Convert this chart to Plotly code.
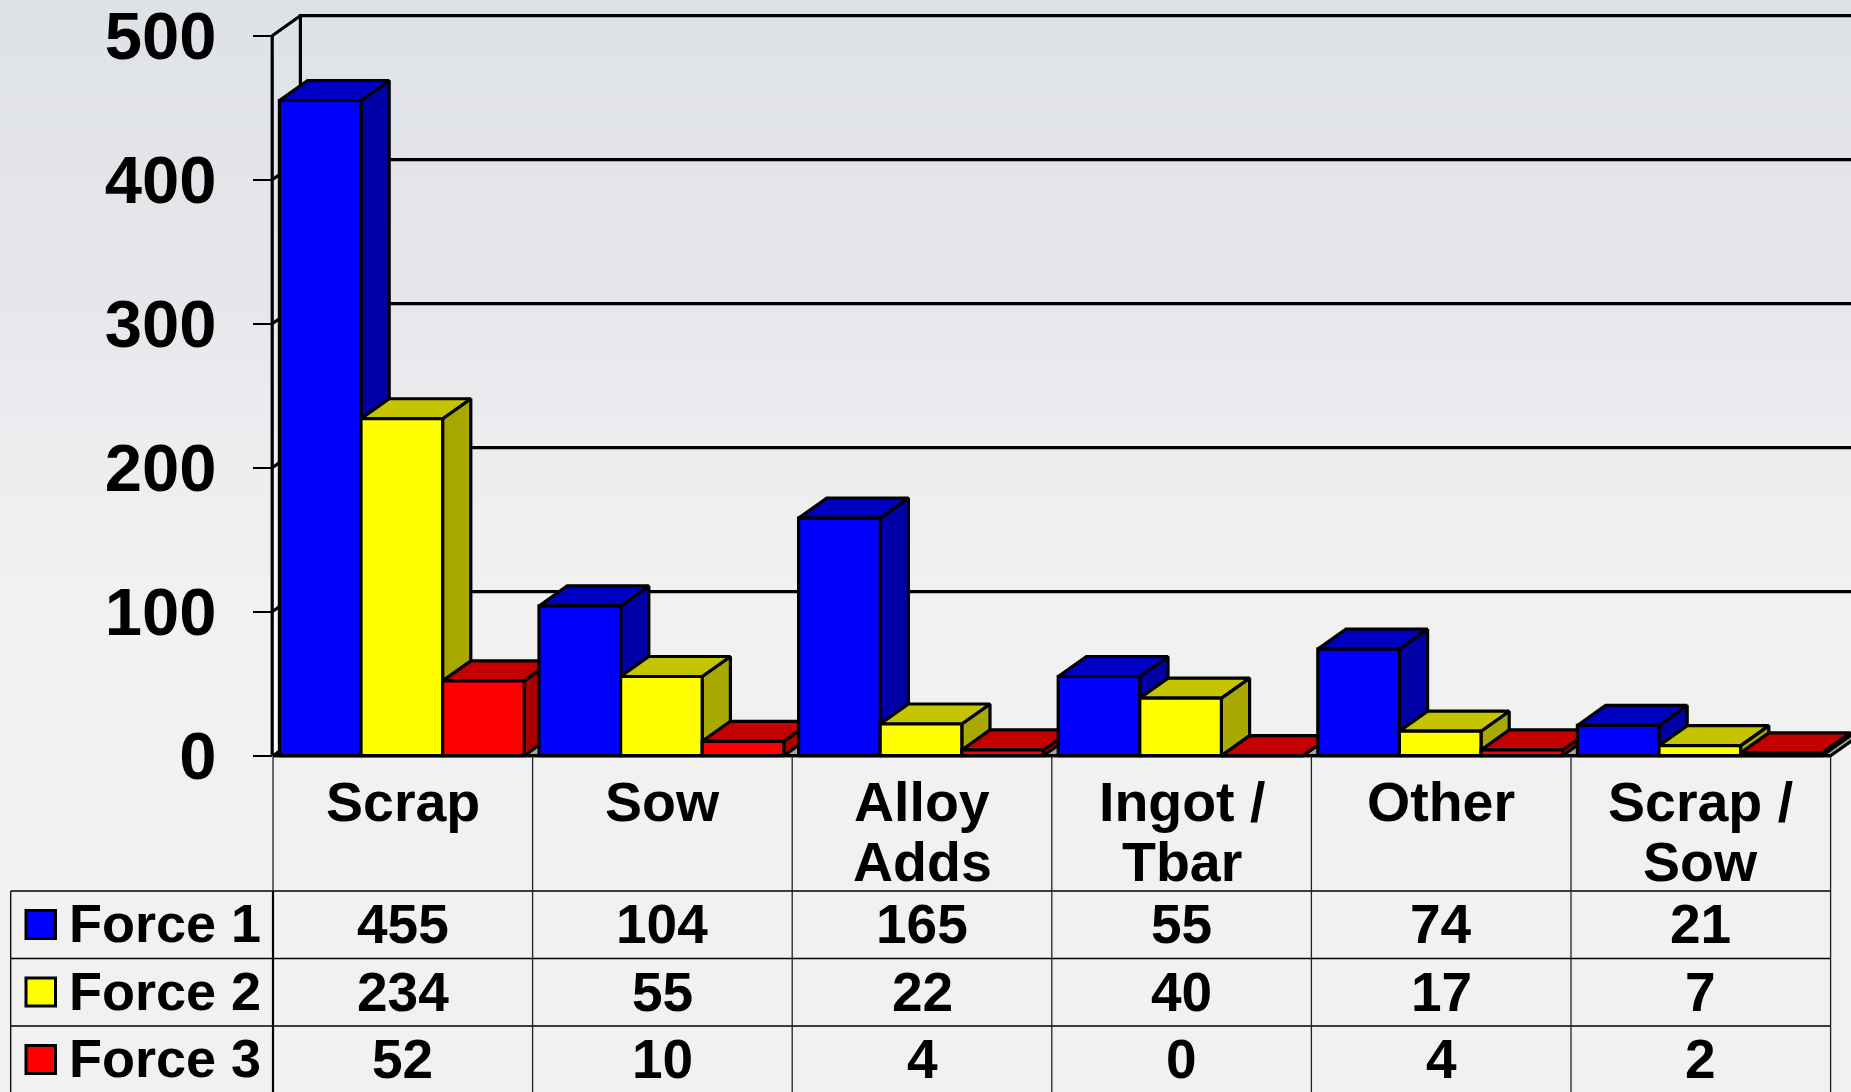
import numpy as np
import plotly.graph_objects as go

categories = [["Scrap"], ["Sow"], ["Alloy", "Adds"], ["Ingot /", "Tbar"], ["Other"], ["Scrap /", "Sow"]]
force_1 = [455, 104, 165, 55, 74, 21]
force_2 = [234, 55, 22, 40, 17, 7]
force_3 = [52, 10, 4, 0, 4, 2]
series_names = ["Force 1", "Force 2", "Force 3"]
y_ticks = [0, 100, 200, 300, 400, 500]

W, H = 1851, 1092
X0, CAT_W = 273.0, 259.6
Y0, PX_PER_UNIT = 755.7, 1.44
DX = 28.2 / CAT_W
DY = 20.0 / PX_PER_UNIT
WALL_X = -0.8 / CAT_W
BAR_OFF = 6.4 / CAT_W
BAR_W = 81.6 / CAT_W
LW = 3.2
FONT = "Liberation Sans"

FACES = [("#0000ff", "#0000c4", "#0000a6"),
         ("#ffff00", "#c4c400", "#a8a800"),
         ("#ff0000", "#c40000", "#a80000")]
series = [force_1, force_2, force_3]
n = len(categories)
ymax = 500


def py(p):
    return 1 - p / H


fig = go.Figure()


def poly(xs, ys, fill=None, color="#000000", width=LW, **kw):
    fig.add_trace(go.Scatter(
        x=xs, y=ys, mode="lines", showlegend=False, hoverinfo="skip",
        line=dict(color=color, width=width, shape="linear"),
        fill="toself" if fill else None, fillcolor=fill, **kw))


# side wall: pale towards the floor, fading into the background at the top
fig.add_trace(go.Scatter(
    x=[WALL_X, WALL_X + DX, WALL_X + DX, WALL_X, WALL_X], y=[0, DY, ymax + DY, ymax, 0],
    mode="lines", line=dict(width=0), showlegend=False, hoverinfo="skip", fill="toself",
    fillgradient=dict(type="vertical", colorscale=[[0, "rgba(255,255,255,0.85)"], [0.4, "rgba(255,255,255,0.2)"],
                                                   [0.7, "rgba(255,255,255,0)"], [1, "rgba(255,255,255,0)"]])))
# walls
poly([WALL_X + DX, WALL_X + DX, n + 2], [0, ymax + DY, ymax + DY])
poly([WALL_X, WALL_X + DX], [ymax, ymax + DY])
for t in y_ticks[1:-1]:
    poly([WALL_X, WALL_X + DX, n + 2], [t, t + DY, t + DY])
poly([WALL_X, WALL_X], [0, ymax])
# floor
poly([0, n, n + DX, DX, 0], [0, 0, DY, DY, 0], fill="#a6a6a6")

# bars
for c in range(n):
    for s in range(3):
        v = series[s][c]
        x1 = c + BAR_OFF + s * BAR_W
        x2 = x1 + BAR_W
        front, top, side = FACES[s]
        poly([x2, x2 + DX, x2 + DX, x2, x2], [0, DY, v + DY, v, 0], fill=side)
        poly([x1, x2, x2 + DX, x1 + DX, x1], [v, v, v + DY, v + DY, v], fill=top)
        poly([x1, x2, x2, x1, x1], [0, 0, v, v, 0], fill=front)
poly([0, n], [0, 0])

shapes = []
# background gradient
stops_p = [0, 150, 300, 450, 600, H]
stops_c = np.array([[222, 226, 231], [226, 228, 232], [230, 231, 235], [236, 237, 239], [241, 241, 241],
                    [241, 241, 241]], float)
bands = 100
for i in range(bands):
    a, b = H * i / bands, H * (i + 1) / bands
    col = [int(round(np.interp((a + b) / 2, stops_p, stops_c[:, k]))) for k in range(3)]
    shapes.append(dict(type="rect", xref="paper", yref="paper", x0=0, x1=1, y0=py(a), y1=py(b) - 0.0005,
                       layer="below", line=dict(width=0), fillcolor=f"rgb({col[0]},{col[1]},{col[2]})"))

# table lines
ROW_TOP = 891.0
ROW_H = 67.5
ROW_X0 = 10.7 / W
for r in range(3):
    y = ROW_TOP + r * ROW_H
    shapes.append(dict(type="line", xref="paper", yref="paper", x0=ROW_X0, x1=(X0 + n * CAT_W) / W,
                       y0=py(y), y1=py(y), line=dict(color="#000000", width=1.3)))
shapes.append(dict(type="line", xref="paper", yref="paper", x0=ROW_X0, x1=ROW_X0, y0=py(ROW_TOP), y1=0,
                   line=dict(color="#000000", width=1.3)))
for c in range(n + 1):
    shapes.append(dict(type="line", xref="x", yref="paper", x0=c, x1=c, y0=py(Y0), y1=0,
                       line=dict(color="#222222", width=1.3)))
shapes.append(dict(type="line", xref="x", yref="paper", x0=0, x1=0, y0=py(ROW_TOP), y1=0,
                   line=dict(color="#000000", width=2.2)))

# legend keys
for r in range(3):
    cy = ROW_TOP + 33.6 + r * ROW_H
    shapes.append(dict(type="rect", xref="paper", yref="paper", x0=26 / W, x1=55.5 / W,
                       y0=py(cy - 14), y1=py(cy + 14), fillcolor=FACES[r][0],
                       line=dict(color="#000000", width=3)))

annotations = []


def text(s, x, xref, y, anchor="center", size=54):
    annotations.append(dict(text=f"<b>{s}</b>", x=x, xref=xref, y=py(y), yref="paper",
                            xanchor=anchor, yanchor="middle", showarrow=False,
                            font=dict(family=FONT, size=size, color="#000000")))


for c, lines in enumerate(categories):
    for k, line in enumerate(lines):
        text(line, c + 0.5, "x", 802 + 60 * k, size=55.5)

for r, (name, vals) in enumerate(zip(series_names, series)):
    cy = ROW_TOP + 33 + r * ROW_H
    text(name, 66.6 / W, "paper", cy - 1, anchor="left", size=54)
    for c, v in enumerate(vals):
        text(str(v), c + 0.5, "x", cy, size=55)

fig.update_layout(
    width=W, height=H, margin=dict(l=0, r=0, t=0, b=0, autoexpand=False),
    paper_bgcolor="rgb(241,241,241)", plot_bgcolor="rgba(0,0,0,0)",
    showlegend=False, shapes=shapes, annotations=annotations,
    xaxis=dict(domain=[0, 1], range=[-X0 / CAT_W, (W - X0) / CAT_W], visible=False),
    yaxis=dict(domain=[0, 1], range=[-(H - Y0) / PX_PER_UNIT, Y0 / PX_PER_UNIT],
               anchor="free", position=(X0 - 1) / W, showgrid=False, zeroline=False,
               showline=False, tickmode="array", tickvals=y_ticks, ticktext=[f"<b>{t}</b>" for t in y_ticks],
               ticks="outside", ticklen=19, tickwidth=1.5, tickcolor="#000000", ticklabelstandoff=23,
               ticklabeloverflow="allow",
               tickfont=dict(family=FONT, size=67, color="#000000")),
)
fig.write_html("out.html", config=dict(displayModeBar=False),
               post_script="document.body.style.margin='0';document.documentElement.style.overflow='hidden';")
